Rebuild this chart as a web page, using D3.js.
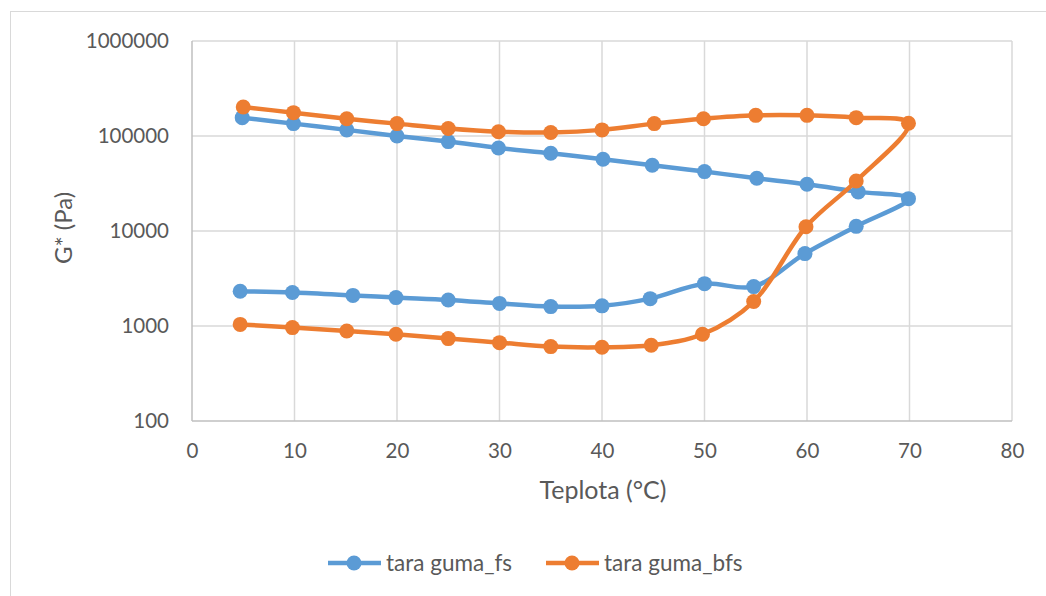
<!DOCTYPE html>
<html>
<head>
<meta charset="utf-8">
<script src="https://cdn.jsdelivr.net/npm/d3@7"></script>
<style>
body{margin:0;background:#fff;}
text{font-family:Lato,"Open Sans",sans-serif;fill:#595959;}
</style>
</head>
<body>
<svg id="chart" width="1046" height="596"></svg>
<script>
// heating branch then cooling branch, one loop per sample
var fsTemp=[4.7,9.8,15.7,19.9,25,30,35,40,44.7,50,54.8,59.8,64.8,69.9,65,60,55.1,50,44.9,40.1,35,29.9,25,20,15.1,9.9,4.9]
var fsG=[2320,2250,2100,1990,1880,1730,1600,1630,1940,2790,2600,5780,11200,21900,25800,31000,35900,42200,49200,56900,65800,74800,87300,100000,116000,135000,156000]

var bfsTemp=[4.7,9.8,15.1,19.9,25,30,35,40,44.8,49.8,54.8,59.9,64.8,69.9,64.8,60,55,49.9,45.1,40,35,29.9,25,20,15.1,9.9,5]
var bfsG=[1040,962,885,818,737,668,607,597,627,818,1810,11100,33600,136000,156000,165000,165000,152000,135000,116000,109000,111000,120000,135000,152000,176000,202000]

var xTicks=[0,10,20,30,40,50,60,70,80]
var yTicks=[100,1000,10000,100000,1000000]
var seriesNames=["tara guma_fs","tara guma_bfs"]
var colors=["#5b9bd5","#ed7d31"]

var width=1046,height=596
var plot={left:192,right:1012,top:41,bottom:421}

var svg=d3.select("#chart")

// chart frame
svg.append("rect")
.attr("x",10.5).attr("y",11.5)
.attr("width",width).attr("height",height)
.attr("fill","none").attr("stroke","#d9d9d9")

var xScale=d3.scaleLinear()
.domain([0,80])
.range([plot.left,plot.right])

var yScale=d3.scaleLog()
.domain([100,1000000])
.range([plot.bottom,plot.top])

// gridlines
svg.append("g")
.selectAll("line")
.data(xTicks.slice(1))
.enter()
.append("line")
.attr("x1",d=>xScale(d)).attr("x2",d=>xScale(d))
.attr("y1",plot.top).attr("y2",plot.bottom)
.attr("stroke","#d9d9d9").attr("stroke-width",1.5)

svg.append("g")
.selectAll("line")
.data(yTicks.slice(1))
.enter()
.append("line")
.attr("x1",plot.left).attr("x2",plot.right)
.attr("y1",d=>yScale(d)).attr("y2",d=>yScale(d))
.attr("stroke","#d9d9d9").attr("stroke-width",1.5)

// axis lines
svg.append("line")
.attr("x1",plot.left).attr("x2",plot.left)
.attr("y1",plot.top).attr("y2",plot.bottom)
.attr("stroke","#bfbfbf").attr("stroke-width",1.5)
svg.append("line")
.attr("x1",plot.left).attr("x2",plot.right)
.attr("y1",plot.bottom).attr("y2",plot.bottom)
.attr("stroke","#bfbfbf").attr("stroke-width",1.5)

// tick labels
var xAxis=d3.axisBottom(xScale).tickValues(xTicks).tickSize(0).tickPadding(22)
var gx=svg.append("g")
.attr("transform","translate(0,"+plot.bottom+")")
.call(xAxis)
gx.select(".domain").remove()
gx.selectAll("text").attr("font-size",20.5).attr("font-family",null).attr("fill",null)

var yAxis=d3.axisLeft(yScale).tickValues(yTicks).tickFormat(d3.format("d")).tickSize(0).tickPadding(23)
var gy=svg.append("g")
.attr("transform","translate("+plot.left+",0)")
.call(yAxis)
gy.select(".domain").remove()
gy.selectAll("text").attr("font-size",20.5).attr("font-family",null).attr("fill",null)

// axis titles
svg.append("text")
.attr("x",(plot.left+plot.right)/2+1).attr("y",499)
.attr("text-anchor","middle").attr("font-size",25)
.text("Teplota (°C)")

svg.append("text")
.attr("transform","translate(72,"+((plot.top+plot.bottom)/2-3)+") rotate(-90)")
.attr("text-anchor","middle").attr("font-size",24)
.text("G* (Pa)")

// series
var series=[
	{name:seriesNames[0],color:colors[0],values:fsTemp.map((t,i)=>({t:t,g:fsG[i]}))},
	{name:seriesNames[1],color:colors[1],values:bfsTemp.map((t,i)=>({t:t,g:bfsG[i]}))}
]

var line=d3.line()
.x(d=>xScale(d.t))
.y(d=>yScale(d.g))
.curve(d3.curveCatmullRom.alpha(0.5))

series.forEach(s=>{
	var g=svg.append("g")
	g.append("path")
	.datum(s.values)
	.attr("d",line)
	.attr("fill","none")
	.attr("stroke",s.color)
	.attr("stroke-width",4.5)
	.attr("stroke-linejoin","round")

	g.selectAll("circle")
	.data(s.values)
	.enter()
	.append("circle")
	.attr("cx",d=>xScale(d.t))
	.attr("cy",d=>yScale(d.g))
	.attr("r",7.5)
	.attr("fill",s.color)
})

// legend
var legendX=[328,546]
var legend=svg.append("g")
.selectAll("g")
.data(series)
.enter()
.append("g")
.attr("transform",(d,i)=>"translate("+legendX[i]+",563)")

legend.append("line")
.attr("x1",0).attr("x2",53)
.attr("stroke",d=>d.color).attr("stroke-width",4.5)
legend.append("circle")
.attr("cx",26).attr("r",7.5)
.attr("fill",d=>d.color)
legend.append("text")
.attr("x",58).attr("y",8)
.attr("font-size",22.5)
.text(d=>d.name)
</script>
</body>
</html>
